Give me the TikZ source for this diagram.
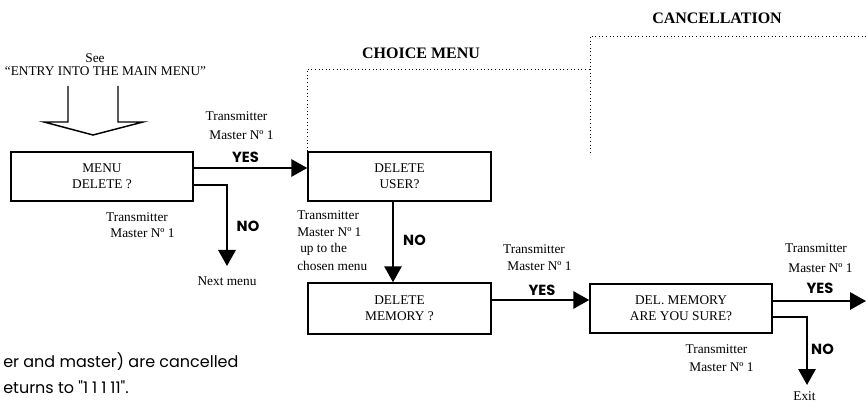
\documentclass[tikz,border=0pt]{standalone}
\usepackage{fontspec}
\setmainfont{Liberation Serif}
\newfontfamily\geo{Poppins}
\usetikzlibrary{arrows.meta}
\begin{document}
\begin{tikzpicture}[x=0.75pt,y=-0.75pt,
  box/.style={draw,line width=1.1pt,align=center,inner sep=0pt,font=\fontsize{10}{12}\selectfont},
  arr/.style={line width=1.5pt,-{Triangle[length=12pt,width=13pt]}},
  lbl/.style={inner sep=0pt,font=\fontsize{10}{12}\selectfont},
  yn/.style={inner sep=0pt,font=\geo\bfseries\fontsize{11}{12}\selectfont},
  hdr/.style={inner sep=0pt,font=\bfseries\fontsize{12}{14}\selectfont},
  zone/.style={dotted,line width=0.7pt},
  note/.style={inner sep=0pt,anchor=west,font=\geo\fontsize{12}{14}\selectfont}]
\useasboundingbox (0,0) rectangle (866,402);
% headers
\node[lbl] (see) at (95,58) {See};
\node[lbl] (entry) at (105.5,71) {“ENTRY INTO THE MAIN MENU”};
\node[hdr] (choice) at (421,53) {CHOICE MENU};
\node[hdr] (cancel) at (717,18) {CANCELLATION};
% zones
\coordinate (zc) at (590,69);
\coordinate (zt) at (590,36);
\coordinate (zb) at (590,152);
\coordinate (zr) at (866,36);
% hollow arrow
\draw[line width=1.1pt,line join=miter] (68,86) -- (68,122) -- (44,122) -- (93,135) -- (143,122) -- (118,122) -- (118,86);
% boxes
\node[box,minimum width=136.5pt,minimum height=36.75pt] (menu) at (102,176.5) {MENU\\DELETE ?};
\node[box,minimum width=137.25pt,minimum height=36.75pt] (user) at (399.5,176.5) {DELETE\\USER?};
\node[box,minimum width=137.25pt,minimum height=38.25pt] (memory) at (399.5,308.5) {DELETE\\MEMORY ?};
\node[box,minimum width=136.5pt,minimum height=36.75pt] (sure) at (681,308.5) {DEL. MEMORY\\ARE YOU SURE?};
\draw[zone] (user.north west) -- (user.north west |- zc) -- (zc) -- (zt) -- (zr);
\draw[zone] (zc) -- (zb);
% connectors
\coordinate (nmend) at (227,266);
\coordinate (exend) at (807,385);
\coordinate (yesend) at (866,301);
\draw[arr] (menu.east |- 0,168) -- (user.west |- 0,168);
\draw[arr] (menu.east |- 0,185) -| (nmend);
\draw[arr] (user.south -| 393,0) -- (memory.north -| 393,0);
\draw[arr] (memory.east |- 0,300) -- (sure.west |- 0,300);
\draw[arr] (sure.east |- 0,301) -- (yesend);
\draw[arr] (sure.east |- 0,317) -| (exend);
% labels
\node[lbl] (t1a) at (236.5,116) {Transmitter};
\node[lbl] (t1b) at (241.5,135) {Master Nº 1};
\node[yn] (yes1) at (245.5,157) {YES};
\node[lbl] (t2a) at (137,217) {Transmitter};
\node[lbl] (t2b) at (142.5,233) {Master Nº 1};
\node[yn] (no1) at (248,226) {NO};
\node[lbl] (next) at (227,281) {Next menu};
\node[lbl,anchor=west] (t3a) at (297,215) {Transmitter};
\node[lbl,anchor=west] (t3b) at (297,232) {Master Nº 1};
\node[lbl,anchor=west] (t3c) at (300,249) {up to the};
\node[lbl,anchor=west] (t3d) at (297,266) {chosen menu};
\node[yn] (no2) at (414.5,240) {NO};
\node[lbl] (t4a) at (534,249) {Transmitter};
\node[lbl] (t4b) at (539.5,266) {Master Nº 1};
\node[yn] (yes2) at (542,290) {YES};
\node[lbl] (t5a) at (816,248) {Transmitter};
\node[lbl] (t5b) at (820.5,268) {Master Nº 1};
\node[yn] (yes3) at (820,288) {YES};
\node[lbl] (t6a) at (716.5,349) {Transmitter};
\node[lbl] (t6b) at (721.5,367) {Master Nº 1};
\node[yn] (no3) at (822.5,349) {NO};
\node[lbl] (exit) at (804.5,396) {Exit};
% note
\node[note] (n1) at (3,362) {er and master) are cancelled};
\node[note] (n2) at (3,387) {eturns to "{\addfontfeatures{LetterSpace=25}1111}1".};
\end{tikzpicture}
\end{document}
